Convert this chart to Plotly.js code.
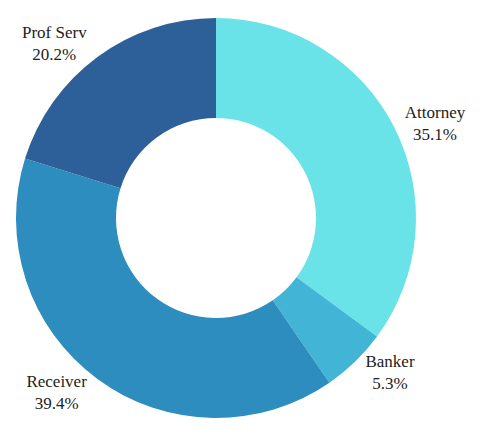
<!DOCTYPE html>
<html>
<head>
<meta charset="utf-8">
<script src="https://cdn.plot.ly/plotly-3.0.1.min.js"></script>
<style>
  html, body { margin: 0; padding: 0; background: #fff; }
  #chart { width: 482px; height: 435px; }
</style>
</head>
<body>
<div id="chart"></div>
<script>
// Share of fees by professional type
const categories = ['Attorney', 'Banker', 'Receiver', 'Prof Serv'];
const shares = [35.1, 5.3, 39.4, 20.2];
const sliceColors = ['#6ae3e8', '#42b5d7', '#2e8dbf', '#2d5f99'];

function drawDonut() {
    const trace = {
        type: 'pie',
        labels: categories,
        values: shares,
        hole: 0.5,
        sort: false,
        direction: 'clockwise',
        rotation: 0,
        marker: { colors: sliceColors, line: { width: 0 } },
        textposition: 'outside',
        texttemplate: '%{label}<br>%{percent:.1%}',
        hoverinfo: 'label+percent',
        automargin: false,
        outsidetextfont: { family: 'Liberation Serif, serif', size: 17, color: '#222' },
        domain: { x: [0, 1], y: [0, 1] }
    };

    const layout = {
        width: 482,
        height: 435,
        margin: { l: 16, r: 66, t: 18, b: 17 },
        showlegend: false,
        paper_bgcolor: '#fff',
        font: { family: 'Liberation Serif, serif', size: 17, color: '#222' }
    };

    Plotly.newPlot('chart', [trace], layout, { displayModeBar: false, responsive: false });
}

drawDonut();
</script>
</body>
</html>
